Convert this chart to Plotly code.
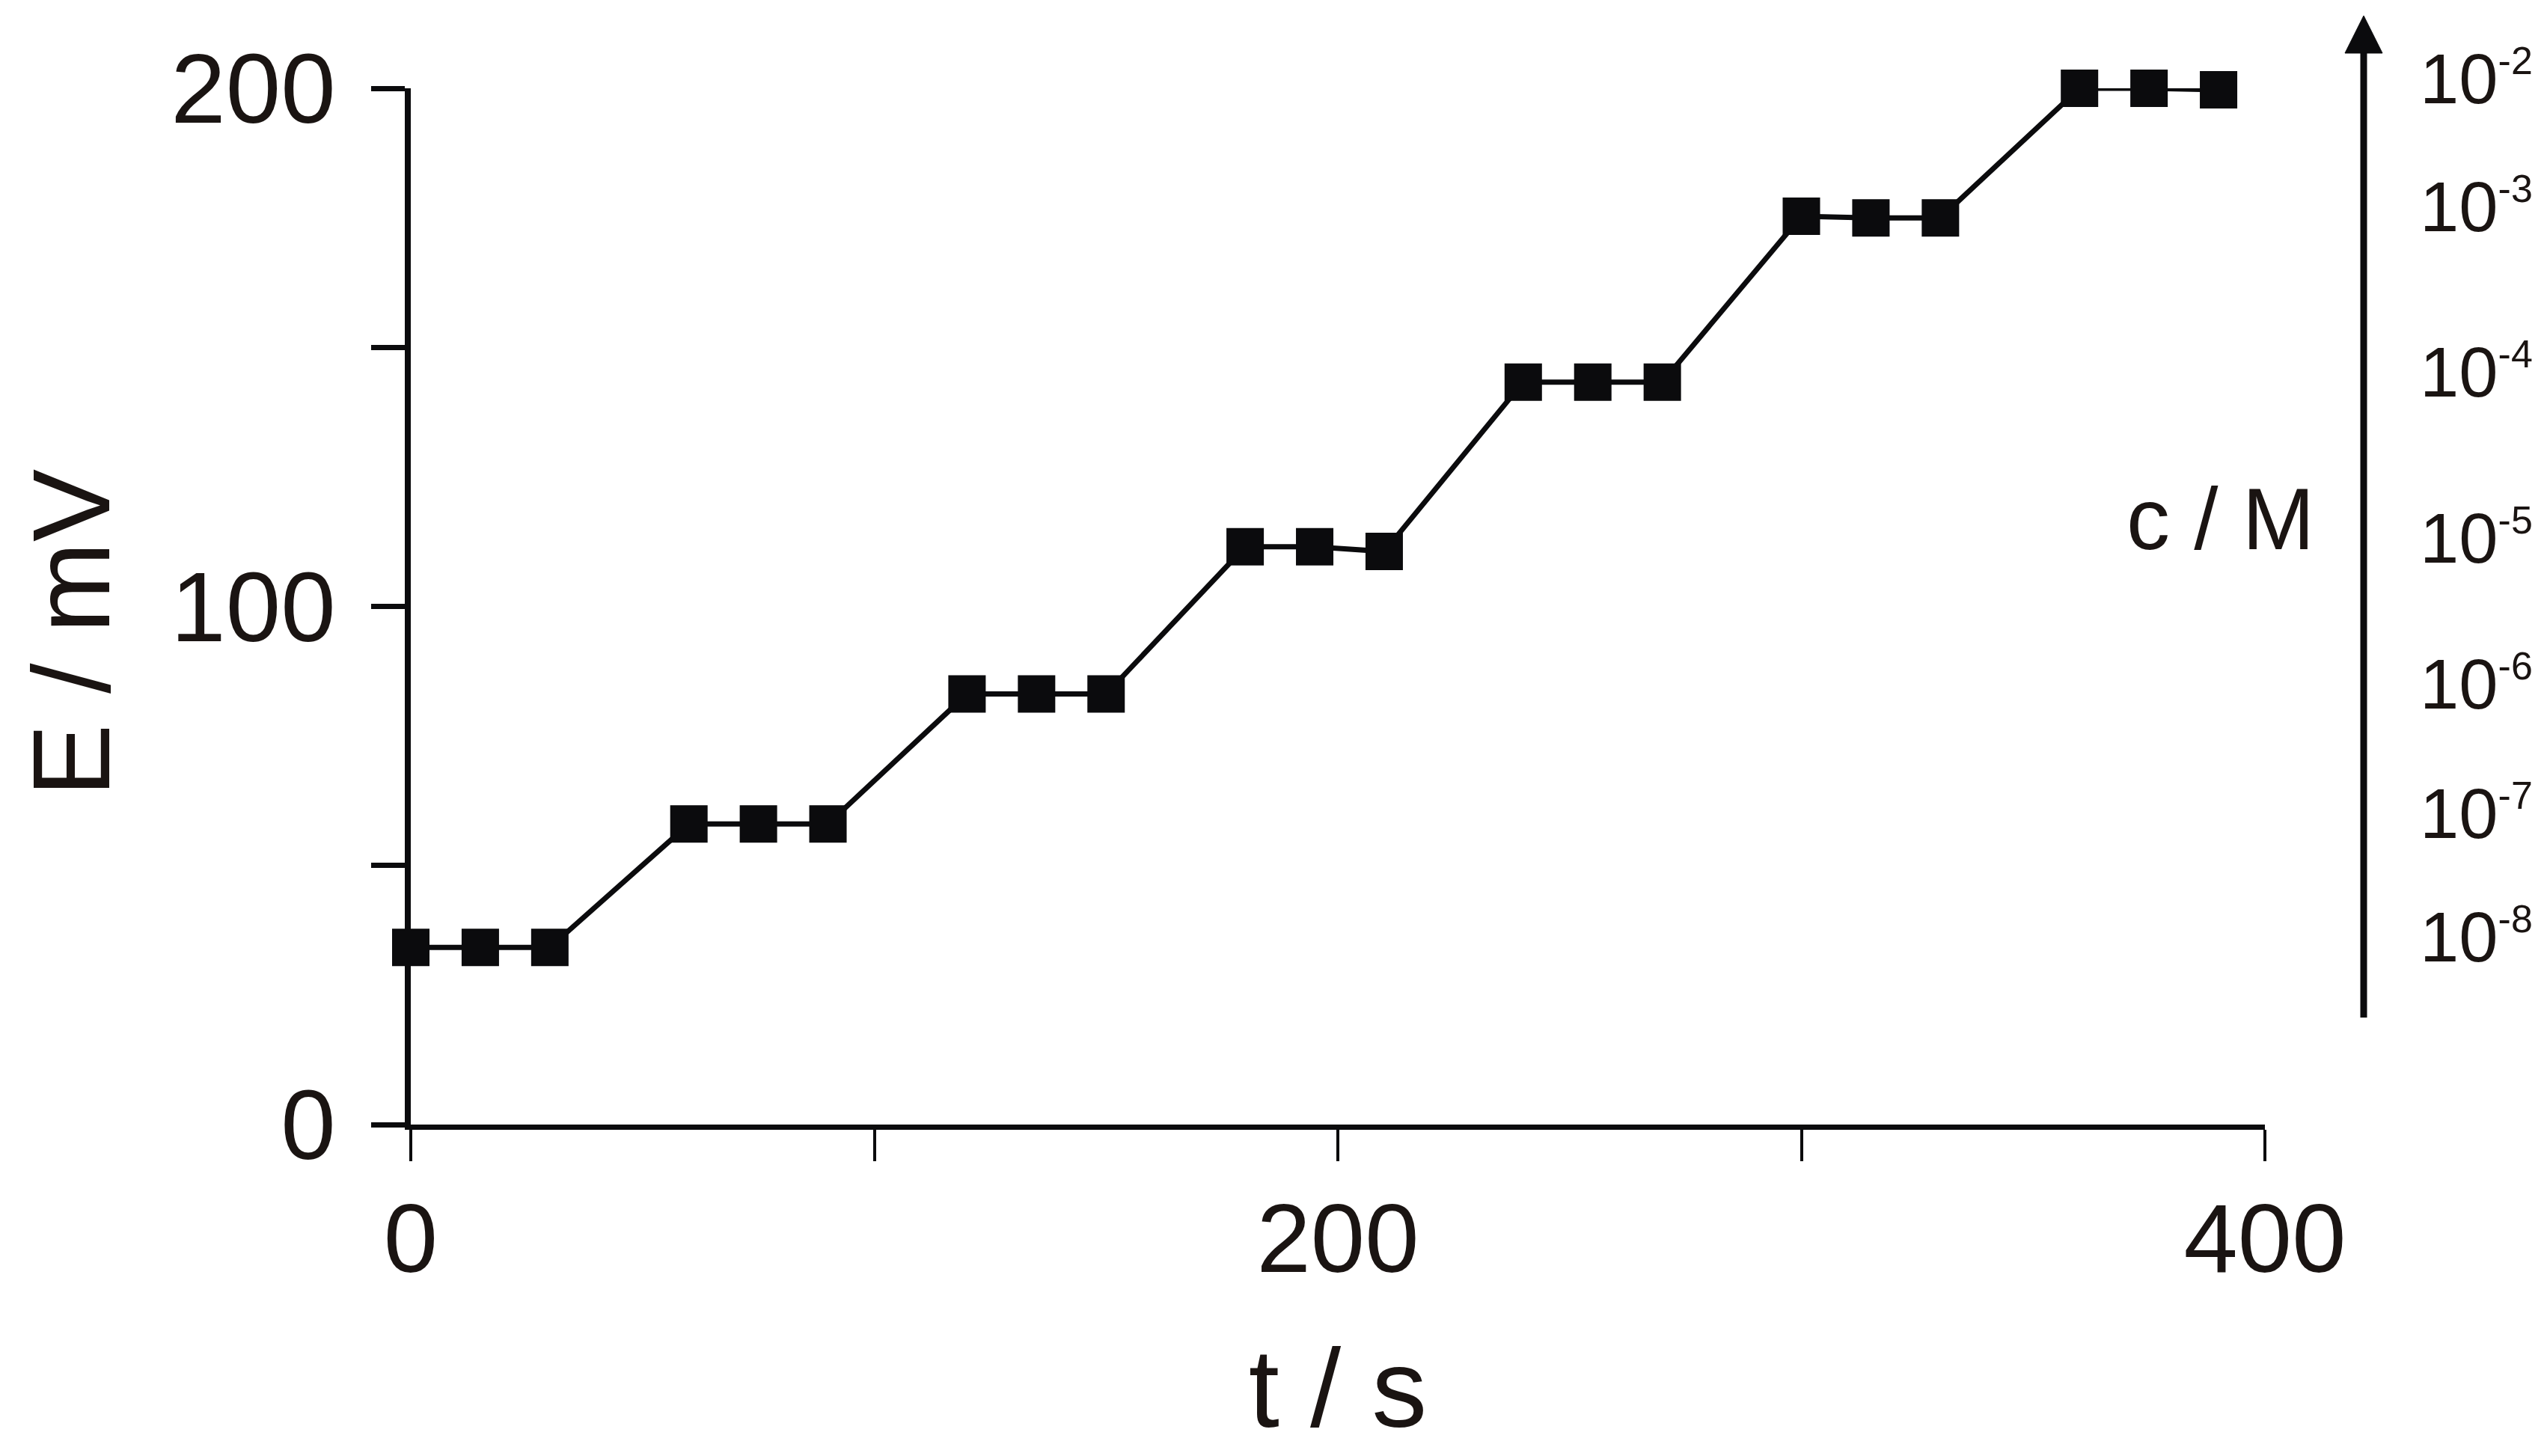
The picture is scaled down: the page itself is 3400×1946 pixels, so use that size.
import plotly.graph_objects as go

# ---- data ----
t_s = [0, 15, 30, 60, 75, 90, 120, 135, 150, 180, 195, 210,
       240, 255, 270, 300, 315, 330, 360, 375, 390]
E_mV = [34.2, 34.2, 34.2, 58.0, 58.0, 58.0, 83.1, 83.1, 83.1,
        111.5, 111.5, 110.6, 143.3, 143.3, 143.3, 175.3, 175.0, 175.0,
        200.0, 200.0, 199.7]
conc_exponents = ["-8", "-7", "-6", "-5", "-4", "-3", "-2"]
y_tickvals = [0, 100, 200]
y_ticktext = ["0", "100", "200"]
y_minor_step = 50
x_tickvals = [0, 200, 400]
x_ticktext = ["0", "200", "400"]
x_minor_step = 100

FONT = "Liberation Sans, Arial, sans-serif"
TXT = "#1a1412"
INK = "#0b0b0d"

OFF = 8  # default page body margin
W, H = 3384, 1930
L, T = 549 - OFF, 118 - OFF
R = W - (3027 - OFF)
B = H - (1503 - OFF)
pw, ph = W - L - R, H - T - B


def px(x):
    # page pixel -> paper fraction
    return (x - OFF - L) / pw


def py(y):
    return (H - B - (y - OFF)) / ph


fig = go.Figure()
fig.add_trace(go.Scatter(
    x=t_s, y=E_mV, mode="lines+markers",
    line=dict(color=INK, width=7),
    marker=dict(symbol="square", size=50, color=INK, line=dict(width=0)),
    cliponaxis=False, showlegend=False, hoverinfo="x+y",
))

# concentration labels at each plateau level (mean of each triplet)
plateaus = [sum(E_mV[i:i + 3]) / 3 for i in range(0, len(E_mV), 3)]
annotations = []
for ex, lev in zip(conc_exponents, plateaus):
    annotations.append(dict(
        x=px(3232), xref="paper", xanchor="left",
        y=lev, yref="y", yanchor="middle", yshift=14,
        text=f"10<sup><span style='font-size:52px'>{ex}</span></sup>",
        showarrow=False,
        font=dict(family=FONT, size=94, color=TXT),
    ))
annotations.append(dict(
    x=px(3095), xref="paper", xanchor="right",
    y=py(694), yref="paper", yanchor="middle",
    text="c / M", showarrow=False,
    font=dict(family=FONT, size=116, color=TXT),
))
# y-axis title (placed as in the reference, slightly below the axis centre)
annotations.append(dict(
    x=px(96), xref="paper", xanchor="center",
    y=py(846), yref="paper", yanchor="middle",
    text="E / mV", textangle=-90, showarrow=False,
    font=dict(family=FONT, size=146, color=TXT),
))

shapes = [
    dict(type="line", xref="paper", yref="paper",
         x0=px(3159), x1=px(3159), y0=py(1360), y1=py(60),
         line=dict(color=INK, width=9)),
    dict(type="path", xref="paper", yref="paper",
         path=f"M {px(3134)} {py(71)} L {px(3184)} {py(71)} L {px(3159)} {py(21)} Z",
         fillcolor=INK, line=dict(color=INK, width=1)),
]

fig.update_layout(
    width=W, height=H,
    margin=dict(l=L, r=R, t=T, b=B, autoexpand=False),
    paper_bgcolor="white", plot_bgcolor="white",
    font=dict(family=FONT, color=TXT),
    xaxis=dict(
        range=[0, 400], tickvals=x_tickvals, ticktext=x_ticktext,
        automargin=False,
        showgrid=False, zeroline=False, showline=True, linecolor=INK, linewidth=7,
        ticks="outside", ticklen=42, tickwidth=4, tickcolor=INK,
        minor=dict(tick0=0, dtick=x_minor_step, ticks="outside", ticklen=42,
                   tickwidth=4, tickcolor=INK, showgrid=False),
        tickfont=dict(family=FONT, size=130, color=TXT),
        ticklabelstandoff=-8,
        title=dict(text="t / s", font=dict(family=FONT, size=148, color=TXT), standoff=114),
    ),
    yaxis=dict(
        range=[0, 200], tickvals=y_tickvals, ticktext=y_ticktext,
        automargin=False,
        showgrid=False, zeroline=False, showline=True, linecolor=INK, linewidth=8,
        ticks="outside", ticklen=45, tickwidth=7, tickcolor=INK,
        minor=dict(tick0=0, dtick=y_minor_step, ticks="outside", ticklen=45,
                   tickwidth=7, tickcolor=INK, showgrid=False),
        tickfont=dict(family=FONT, size=132, color=TXT),
        ticklabelstandoff=21,
    ),
    annotations=annotations,
    shapes=shapes,
)

fig.write_html("out.html")
